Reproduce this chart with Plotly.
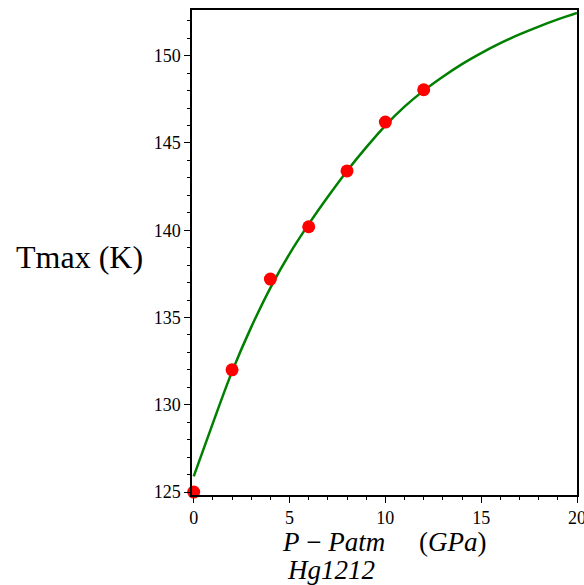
import plotly.graph_objects as go

# measured data points
pressure = [0, 2, 4, 6, 8, 10, 12]
tmax = [125.0, 132.0, 137.2, 140.2, 143.4, 146.2, 148.05]

# fitted curve
curve_p = list(range(0, 21))
curve_t = [125.9, 128.95, 131.9, 134.45, 136.7, 138.65, 140.35, 141.92, 143.4, 144.75,
           146.0, 147.08, 148.0, 148.8, 149.52, 150.15, 150.72, 151.22, 151.67,
           152.08, 152.45]

x_ticks = [0, 5, 10, 15, 20]
y_ticks = [125, 130, 135, 140, 145, 150]

W, H = 584, 585
L, R, T, B = 192, 7, 10, 90
pw, ph = W - L - R, H - T - B

def px(x):
    return (x - L) / pw

def py(y):
    return (H - B - y) / ph

serif = "Liberation Serif"

fig = go.Figure()
fig.add_trace(go.Scatter(x=curve_p, y=curve_t, mode="lines",
                         line=dict(color="#008000", width=2.5, shape="spline", smoothing=1.0),
                         hoverinfo="skip"))
fig.add_trace(go.Scatter(x=pressure, y=tmax, mode="markers", marker=dict(color="#ff0000", size=13),
                         cliponaxis=False))

def axis_style():
    return dict(showline=True, linecolor="black", linewidth=1.5, mirror=True, ticks="outside",
                ticklen=6, tickwidth=1.2, tickcolor="black", showgrid=False, zeroline=False,
                automargin=False, ticklabeloverflow="allow",
                tickfont=dict(family=serif, size=18, color="black"),
                minor=dict(ticks="outside", ticklen=3, tickwidth=1, tickcolor="black", dtick=1, showgrid=False))

fig.update_xaxes(range=[-0.09, 20.0], tickvals=x_ticks, ticktext=[str(v) for v in x_ticks], **axis_style())
fig.update_yaxes(range=[124.83, 152.62], tickvals=y_ticks, ticktext=[str(v) for v in y_ticks], **axis_style())

gap = "\u00a0" * 5
fig.update_layout(
    width=W, height=H, showlegend=False,
    margin=dict(l=L, r=R, t=T, b=B),
    plot_bgcolor="white", paper_bgcolor="white",
    annotations=[
        dict(text="Tmax (K)", xref="paper", yref="paper", x=px(79), y=py(257), xanchor="center", yanchor="middle",
             showarrow=False, font=dict(family=serif, size=32, color="black")),
        dict(text="<i>P</i> \u2212 <i>Patm</i>" + gap + "(<i>GPa</i>)", xref="paper", yref="paper",
             x=px(384), y=py(542), xanchor="center", yanchor="middle",
             showarrow=False, font=dict(family=serif, size=27, color="black")),
        dict(text="<i>Hg1212</i>", xref="paper", yref="paper", x=px(331), y=py(570), xanchor="center", yanchor="middle",
             showarrow=False, font=dict(family=serif, size=27, color="black")),
    ],
)

fig.write_html("out.html", config={"displayModeBar": False},
               post_script="document.body.style.margin='0';document.body.style.overflow='hidden';")
